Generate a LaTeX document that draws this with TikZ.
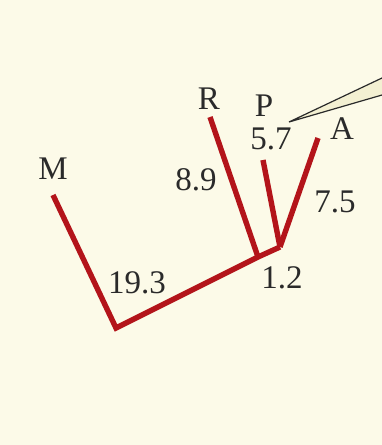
\documentclass[tikz,border=0pt]{standalone}
\usepackage{fontspec}
\setmainfont{Liberation Serif}
\definecolor{bg}{HTML}{FCFAE8}
\definecolor{branch}{HTML}{B3141A}
\definecolor{wedge}{HTML}{F3F0D2}
\definecolor{txt}{HTML}{2A2A2A}
\begin{document}
\begin{tikzpicture}[x=1pt,y=-1pt,
  br/.style={draw=branch,line width=5.4pt,line cap=butt,line join=miter},
  lbl/.style={text=txt,font=\fontsize{33}{35}\selectfont,inner sep=0pt}]
\fill[bg] (0,0) rectangle (382,445);
\useasboundingbox (0,0) rectangle (382,445);
% pointer wedge
\coordinate (apex) at (289,122);
\coordinate (w1) at (382,78);
\coordinate (w2) at (382,95);
\fill[wedge] (apex) -- (w1) -- (w2) -- cycle;
\draw[txt,line width=1.2pt] (w1) -- (apex) -- (w2);
% tree
\coordinate (mt) at (53,195);
\coordinate (root) at (116,328);
\coordinate (jr) at (258,257);
\coordinate (rt) at (210,117);
\coordinate (jpa) at (280,247);
\coordinate (pt) at (263,160);
\coordinate (at) at (318,138);
\draw[br] (mt) -- (root) -- (jr) -- (jpa);
\draw[br] (jr) -- (rt);
\draw[br] (jpa) -- (pt);
\draw[br] (jpa) -- (at);
% labels
\node[lbl] (M) at (53,169) {M};
\node[lbl] (R) at (209,99) {R};
\node[lbl] (P) at (264,106) {P};
\node[lbl] (A) at (342,129) {A};
\node[lbl] (l57) at (271,139) {5.7};
\node[lbl] (l89) at (196,180) {8.9};
\node[lbl] (l75) at (335,202) {7.5};
\node[lbl] (l193) at (137,283) {19.3};
\node[lbl] (l12) at (282,278) {1.2};
\end{tikzpicture}
\end{document}
